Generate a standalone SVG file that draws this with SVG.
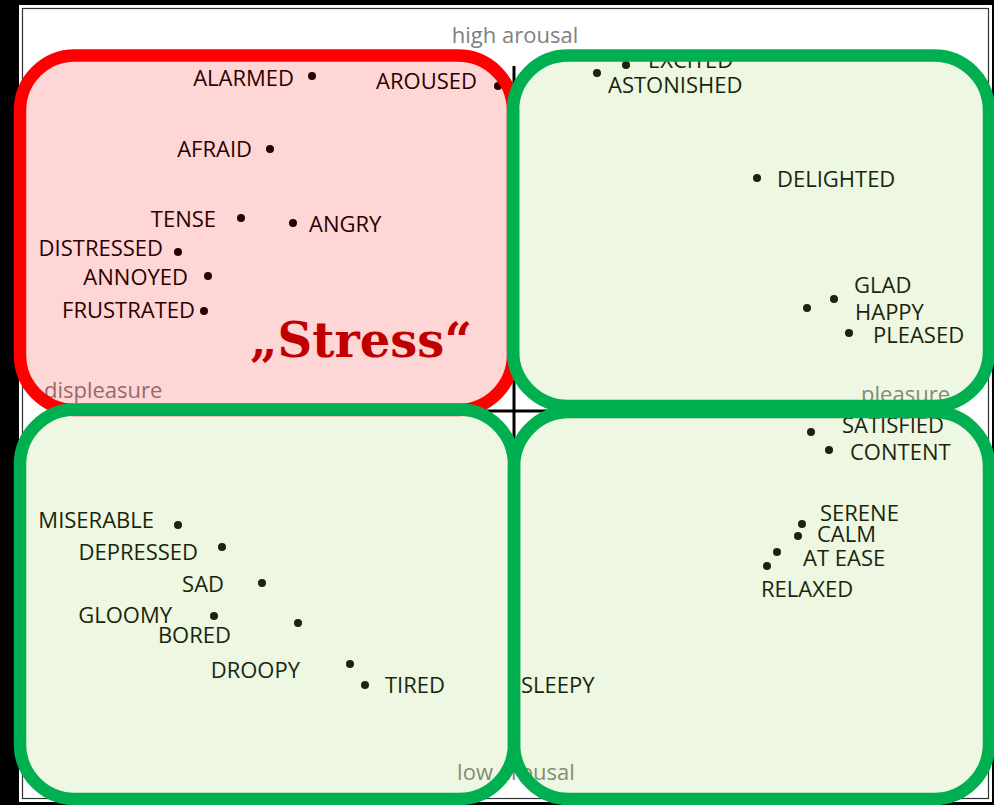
<svg xmlns="http://www.w3.org/2000/svg" width="994" height="805" viewBox="0 0 994 805">
  <defs>
    <style>
      .lbl { font-family: "Open Sans", "Liberation Sans", sans-serif; font-size: 22px; fill: #000; }
      .end { text-anchor: end; }
      .axis-lbl { font-family: "Open Sans", "Liberation Sans", sans-serif; font-size: 22px; fill: #7f7f7f; }
      .dot { fill: #000; }
      .axis { stroke: #000; stroke-width: 3; fill: none; }
      .zone-red { fill: rgba(255,0,0,0.16); stroke: #ff0000; stroke-width: 12.5; }
      .zone-green { fill: rgba(146,208,80,0.17); stroke: #00b050; stroke-width: 12.5; }
      .stress { font-family: "DejaVu Serif", "Liberation Serif", serif; font-weight: bold; font-size: 48px; fill: #c00000; }
    </style>
  </defs>

  <!-- frame -->
  <rect x="0" y="0" width="994" height="805" fill="#000"/>
  <rect x="19" y="5" width="973" height="797" fill="#fff"/>
  <rect x="22.5" y="8.5" width="966" height="790" fill="none" stroke="#333" stroke-width="1.2"/>

  <!-- arousal / valence axes -->
  <g id="axes">
    <line class="axis" x1="514" y1="66" x2="514" y2="752"/>
    <line class="axis" x1="72" y1="411" x2="950" y2="411"/>
    <text class="axis-lbl" x="515" y="43" text-anchor="middle">high arousal</text>
    <text class="axis-lbl" x="516" y="780" text-anchor="middle">low arousal</text>
    <text class="axis-lbl" x="44" y="398">displeasure</text>
    <text class="axis-lbl" x="950" y="402" text-anchor="end">pleasure</text>
  </g>

  <!-- emotion points -->
  <g id="alarmed"><circle class="dot" cx="312" cy="76" r="4"/><text class="lbl end" x="294" y="86">ALARMED</text></g>
  <g id="aroused"><circle class="dot" cx="498" cy="86" r="4"/><text class="lbl end" x="477" y="89">AROUSED</text></g>
  <g id="afraid"><circle class="dot" cx="270" cy="149" r="4"/><text class="lbl end" x="252" y="157">AFRAID</text></g>
  <g id="tense"><circle class="dot" cx="241" cy="218" r="4"/><text class="lbl end" x="216" y="227">TENSE</text></g>
  <g id="angry"><circle class="dot" cx="293" cy="223" r="4"/><text class="lbl" x="309" y="232">ANGRY</text></g>
  <g id="distressed"><circle class="dot" cx="178" cy="252" r="4"/><text class="lbl end" x="163" y="256">DISTRESSED</text></g>
  <g id="annoyed"><circle class="dot" cx="208" cy="276" r="4"/><text class="lbl end" x="188" y="285">ANNOYED</text></g>
  <g id="frustrated"><circle class="dot" cx="204" cy="311" r="4"/><text class="lbl end" x="195" y="318">FRUSTRATED</text></g>

  <g id="excited"><circle class="dot" cx="626" cy="65" r="4"/><text class="lbl" x="648" y="68">EXCITED</text></g>
  <g id="astonished"><circle class="dot" cx="597" cy="73" r="4"/><text class="lbl" x="608" y="93">ASTONISHED</text></g>
  <g id="delighted"><circle class="dot" cx="757" cy="178" r="4"/><text class="lbl" x="777" y="187">DELIGHTED</text></g>
  <g id="glad"><circle class="dot" cx="834" cy="299" r="4"/><text class="lbl" x="854" y="293">GLAD</text></g>
  <g id="happy"><circle class="dot" cx="807" cy="308" r="4"/><text class="lbl" x="855" y="320">HAPPY</text></g>
  <g id="pleased"><circle class="dot" cx="849" cy="333" r="4"/><text class="lbl" x="873" y="343">PLEASED</text></g>

  <g id="satisfied"><circle class="dot" cx="811" cy="432" r="4"/><text class="lbl" x="842" y="433">SATISFIED</text></g>
  <g id="content"><circle class="dot" cx="829" cy="450" r="4"/><text class="lbl" x="850" y="460">CONTENT</text></g>
  <g id="serene"><circle class="dot" cx="802" cy="524" r="4"/><text class="lbl" x="820" y="521">SERENE</text></g>
  <g id="calm"><circle class="dot" cx="798" cy="536" r="4"/><text class="lbl" x="817" y="542">CALM</text></g>
  <g id="at-ease"><circle class="dot" cx="777" cy="552" r="4"/><text class="lbl" x="803" y="566">AT EASE</text></g>
  <g id="relaxed"><circle class="dot" cx="767" cy="566" r="4"/><text class="lbl" x="761" y="597">RELAXED</text></g>
  <g id="sleepy"><text class="lbl" x="521" y="693">SLEEPY</text></g>

  <g id="miserable"><circle class="dot" cx="178" cy="525" r="4"/><text class="lbl end" x="154" y="528">MISERABLE</text></g>
  <g id="depressed"><circle class="dot" cx="222" cy="547" r="4"/><text class="lbl end" x="198" y="560">DEPRESSED</text></g>
  <g id="sad"><circle class="dot" cx="262" cy="583" r="4"/><text class="lbl end" x="224" y="592">SAD</text></g>
  <g id="gloomy"><circle class="dot" cx="214" cy="616" r="4"/><text class="lbl end" x="172" y="623">GLOOMY</text></g>
  <g id="bored"><circle class="dot" cx="298" cy="623" r="4"/><text class="lbl end" x="231" y="643">BORED</text></g>
  <g id="droopy"><circle class="dot" cx="350" cy="664" r="4"/><text class="lbl end" x="300" y="678">DROOPY</text></g>
  <g id="tired"><circle class="dot" cx="365" cy="685" r="4"/><text class="lbl" x="385" y="693">TIRED</text></g>

  <!-- quadrant zones (translucent fill over the points) -->
  <g id="zone-stress">
    <rect class="zone-red" x="20" y="55.5" width="493" height="354.5" rx="55" ry="55"/>
    <text class="stress" x="250" y="357" textLength="222" lengthAdjust="spacingAndGlyphs">„Stress“</text>
  </g>
  <g id="zone-high-pleasure"><rect class="zone-green" x="513" y="55.5" width="476" height="350.5" rx="55" ry="55"/></g>
  <g id="zone-low-displeasure"><rect class="zone-green" x="20" y="409.5" width="494" height="389.5" rx="55" ry="55"/></g>
  <g id="zone-low-pleasure"><rect class="zone-green" x="514" y="412" width="475" height="387" rx="55" ry="55"/></g>

  <!-- connectors: none -->
  <g id="connectors"/>
</svg>
